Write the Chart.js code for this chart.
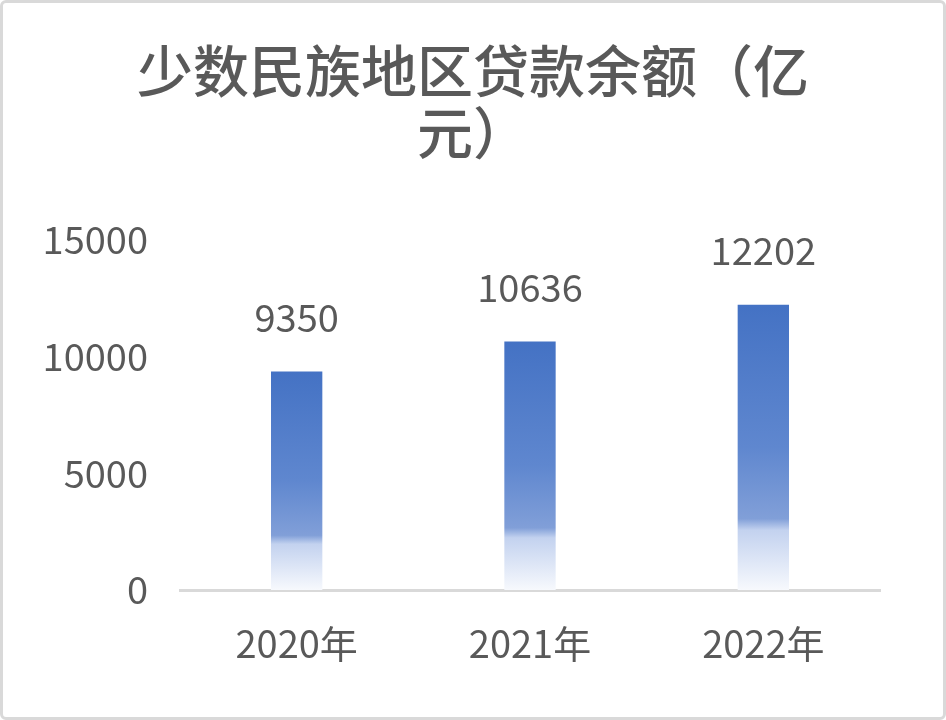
<!DOCTYPE html>
<html>
<head>
<meta charset="utf-8">
<script src="https://cdn.jsdelivr.net/npm/chart.js@4.4.1/dist/chart.umd.min.js"></script>
<style>
    html, body { margin: 0; padding: 0; background: #fff; }
    #wrap {
        width: 946px; height: 720px;
        box-sizing: border-box;
        border: 3px solid #d9d9d9;
        border-radius: 6px;
        position: relative;
        overflow: hidden;
    }
    #chart { position: absolute; left: -3px; top: -3px; }
</style>
</head>
<body>
<div id="wrap"><canvas id="chart" width="946" height="720"></canvas></div>
<script>
// DATA
let years = ["2020年", "2021年", "2022年"];
let loans = [9350, 10636, 12202];
let titleLines = ["少数民族地区贷款余额（亿", "元）"];

let font = "'Noto Sans CJK SC', 'Noto Sans', sans-serif";
let grey = "#595959";

// per-bar gradient (blue top, fading to white at the foot)
function barFill(ctx) {
    let chart = ctx.chart;
    if (!chart.chartArea || ctx.dataIndex === undefined) return "#4472c4";
    let y = chart.scales.y;
    let top = y.getPixelForValue(loans[ctx.dataIndex]);
    let base = y.getPixelForValue(0);
    let g = chart.ctx.createLinearGradient(0, top, 0, base);
    g.addColorStop(0, "#4472c4");
    g.addColorStop(0.5, "#5f87cf");
    g.addColorStop(0.75, "#819fd8");
    g.addColorStop(0.79, "#c3d2ef");
    g.addColorStop(1, "#f7f9fd");
    return g;
}

// value labels above bars
let valueLabels = {
    id: "valueLabels",
    afterDatasetsDraw(chart) {
        let c = chart.ctx;
        c.save();
        c.font = "38px " + font;
        c.fillStyle = grey;
        c.textAlign = "center";
        c.textBaseline = "middle";
        chart.getDatasetMeta(0).data.forEach((bar, i) => {
            c.fillText(loans[i], bar.x, bar.y - 54);
        });
        c.restore();
    }
};

new Chart(document.getElementById("chart"), {
    type: "bar",
    data: {
        labels: years,
        datasets: [{
            data: loans,
            backgroundColor: barFill,
            borderWidth: 0,
            barPercentage: 0.22,
            categoryPercentage: 1
        }]
    },
    plugins: [valueLabels],
    options: {
        responsive: false,
        animation: false,
        layout: { padding: { left: 33, right: 33, top: 0, bottom: 0 } },
        plugins: {
            legend: { display: false },
            tooltip: { enabled: false },
            title: {
                display: true,
                text: titleLines,
                color: grey,
                font: { family: font, size: 56, weight: "500", lineHeight: 1.12 },
                padding: { top: 39, bottom: 75 }
            }
        },
        scales: {
            x: {
                grid: { display: false, drawTicks: false },
                border: { display: true, color: "#d9d9d9", width: 3 },
                ticks: { color: grey, font: { family: font, size: 38 }, padding: 31 },
                afterFit(s) { s.height = 130; }
            },
            y: {
                min: 0,
                max: 15000,
                grid: { display: false, drawTicks: false },
                border: { display: false },
                ticks: {
                    stepSize: 5000,
                    color: grey,
                    font: { family: font, size: 38 },
                    padding: 32,
                    callback: v => String(v)
                },
                afterFit(s) { s.width = 147; }
            },
            // empty right-hand spacer so the title stays centred on the page
            y2: {
                position: "right",
                grid: { display: false, drawTicks: false },
                border: { display: false },
                ticks: { display: false },
                afterFit(s) { s.width = 33; }
            }
        }
    }
});
</script>
</body>
</html>
